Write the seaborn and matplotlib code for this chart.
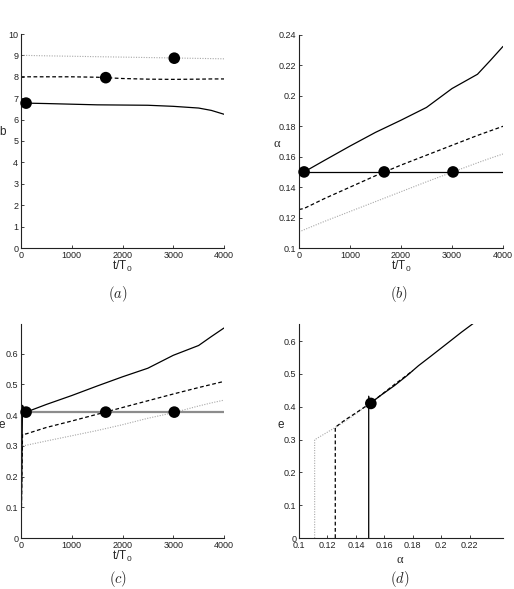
import matplotlib
matplotlib.use("Agg")
import matplotlib.pyplot as plt
import seaborn as sns
import pandas as pd

# ---------------- data ----------------
t = [0, 30, 100, 500, 1000, 1500, 2000, 2500, 3000, 3500, 3750, 4000]

b_solid = [6.77, 6.77, 6.77, 6.75, 6.72, 6.69, 6.68, 6.67, 6.62, 6.54, 6.43, 6.25]
b_dashed = [8.0, 8.0, 8.0, 8.0, 8.0, 7.98, 7.92, 7.89, 7.88, 7.89, 7.9, 7.9]
b_dotted = [9.0, 9.0, 9.0, 8.98, 8.96, 8.94, 8.92, 8.9, 8.88, 8.86, 8.85, 8.84]

alpha_solid = [0.149, 0.149, 0.150, 0.1576, 0.167, 0.176, 0.184, 0.1924, 0.2048, 0.2142, 0.2232, 0.2325]
alpha_dashed = [0.1255, 0.1255, 0.126, 0.1325, 0.140, 0.1475, 0.1545, 0.161, 0.1675, 0.174, 0.177, 0.180]
alpha_dotted = [0.111, 0.111, 0.112, 0.1175, 0.124, 0.1305, 0.137, 0.1435, 0.1498, 0.156, 0.159, 0.1618]

e_solid = [0.0, 0.432, 0.41, 0.435, 0.464, 0.495, 0.525, 0.553, 0.595, 0.627, 0.656, 0.684]
e_dashed = [0.0, 0.338, 0.339, 0.360, 0.381, 0.403, 0.425, 0.447, 0.469, 0.490, 0.500, 0.510]
e_dotted = [0.0, 0.300, 0.302, 0.316, 0.333, 0.350, 0.369, 0.390, 0.408, 0.430, 0.440, 0.449]

thr_t = [0, 4000]
alpha_thr = [0.15, 0.15]
e_thr = [0.41, 0.41]

cross_t = [100, 1670, 3020]
cross_b = [6.77, 7.96, 8.87]
cross_alpha = [0.15, 0.15, 0.15]
cross_e = [0.41, 0.41, 0.41]

d_alpha = [0.1505]
d_e = [0.41]

# ---------------- style ----------------
sns.set_theme(style="ticks")
plt.rcParams.update({
    "font.family": ["Liberation Sans", "DejaVu Sans"],
    "xtick.direction": "in",
    "ytick.direction": "in",
    "xtick.major.size": 2.5,
    "ytick.major.size": 2.5,
    "xtick.major.width": 0.6,
    "ytick.major.width": 0.6,
    "xtick.major.pad": 2,
    "ytick.major.pad": 2,
    "xtick.labelsize": 6.5,
    "ytick.labelsize": 6.5,
    "xtick.color": "#222222",
    "ytick.color": "#222222",
    "axes.edgecolor": "#222222",
    "axes.linewidth": 0.8,
    "mathtext.fontset": "cm",
})

styles = {
    "solid": dict(color="black", linewidth=0.9, linestyle="-"),
    "dashed": dict(color="black", linewidth=0.9, linestyle=(0, (3, 2))),
    "dotted": dict(color="#a8a8a8", linewidth=0.8, linestyle=(0, (1, 1.3))),
}

W, H = 514, 589
fig = plt.figure(figsize=(W / 100, H / 100), dpi=100)


def add_ax(x0, x1, ytop, ybot):
    return fig.add_axes([x0 / W, 1 - ybot / H, (x1 - x0) / W, (ybot - ytop) / H])


ax_a = add_ax(21, 224, 34, 248)
ax_b = add_ax(299, 503, 35, 248)
ax_c = add_ax(21, 224, 324, 538)
ax_d = add_ax(299, 503, 324, 538)


def series(ax, x, y, key):
    df = pd.DataFrame({"x": x, "y": y})
    sns.lineplot(data=df, x="x", y="y", ax=ax, sort=False, estimator=None, **styles[key])


def markers(ax, x, y):
    df = pd.DataFrame({"x": x, "y": y})
    sns.scatterplot(data=df, x="x", y="y", ax=ax, s=70, color="black",
                    edgecolor="none", zorder=5, clip_on=False)


def finish(ax, xlim, ylim, xticks, yticks, xticklabels, yticklabels):
    ax.set_xlim(*xlim)
    ax.set_ylim(*ylim)
    ax.set_xticks(xticks)
    ax.set_yticks(yticks)
    ax.set_xticklabels(xticklabels)
    ax.set_yticklabels(yticklabels)
    sns.despine(ax=ax)
    ax.set_xlabel("")
    ax.set_ylabel("")


# (a)
series(ax_a, t, b_dotted, "dotted")
series(ax_a, t, b_dashed, "dashed")
series(ax_a, t, b_solid, "solid")
markers(ax_a, cross_t, cross_b)
finish(ax_a, (0, 4000), (0, 10), [0, 1000, 2000, 3000, 4000], range(0, 11),
       ["0", "1000", "2000", "3000", "4000"], [str(i) for i in range(0, 11)])

# (b)
series(ax_b, t, alpha_dotted, "dotted")
series(ax_b, t, alpha_dashed, "dashed")
series(ax_b, t, alpha_solid, "solid")
series(ax_b, thr_t, alpha_thr, "solid")
markers(ax_b, cross_t, cross_alpha)
finish(ax_b, (0, 4000), (0.1, 0.24), [0, 1000, 2000, 3000, 4000],
       [0.1, 0.12, 0.14, 0.16, 0.18, 0.2, 0.22, 0.24],
       ["0", "1000", "2000", "3000", "4000"],
       ["0.1", "0.12", "0.14", "0.16", "0.18", "0.2", "0.22", "0.24"])

# (c)
series(ax_c, t, e_dotted, "dotted")
series(ax_c, t, e_dashed, "dashed")
series(ax_c, t, e_solid, "solid")
sns.lineplot(x=thr_t, y=e_thr, ax=ax_c, color="#8c8c8c", linewidth=1.6)
markers(ax_c, cross_t, cross_e)
finish(ax_c, (0, 4000), (0, 0.697), [0, 1000, 2000, 3000, 4000],
       [0, 0.1, 0.2, 0.3, 0.4, 0.5, 0.6],
       ["0", "1000", "2000", "3000", "4000"],
       ["0", "0.1", "0.2", "0.3", "0.4", "0.5", "0.6"])

# (d)
series(ax_d, alpha_dotted, e_dotted, "dotted")
series(ax_d, alpha_dashed, e_dashed, "dashed")
series(ax_d, alpha_solid, e_solid, "solid")
markers(ax_d, d_alpha, d_e)
finish(ax_d, (0.1, 0.2434), (0, 0.652),
       [0.1, 0.12, 0.14, 0.16, 0.18, 0.2, 0.22],
       [0, 0.1, 0.2, 0.3, 0.4, 0.5, 0.6],
       ["0.1", "0.12", "0.14", "0.16", "0.18", "0.2", "0.22"],
       ["0", "0.1", "0.2", "0.3", "0.4", "0.5", "0.6"])

# labels
lab_fs = 8.5
tT = r"t/T$_\mathregular{0}$"
for ax in (ax_a, ax_b, ax_c):
    ax.set_xlabel(tT, fontsize=lab_fs)
    ax.xaxis.set_label_coords(0.5, -0.05)
    ax.xaxis.label.set_va("top")

ax_d.set_xlabel("α", fontsize=9, family=["Liberation Serif", "DejaVu Serif"])
ax_d.xaxis.set_label_coords(0.495, -0.075)
ax_d.xaxis.label.set_va("top")

ax_a.set_ylabel("b", fontsize=lab_fs, rotation=0, ha="center", va="center")
ax_a.yaxis.set_label_coords(-0.089, 0.54)
ax_b.set_ylabel("α", fontsize=9, rotation=0, ha="center", va="center",
                family=["Liberation Serif", "DejaVu Serif"])
ax_b.yaxis.set_label_coords(-0.108, 0.49)
ax_c.set_ylabel("e", fontsize=lab_fs, rotation=0, ha="center", va="center")
ax_c.yaxis.set_label_coords(-0.095, 0.53)
ax_d.set_ylabel("e", fontsize=lab_fs, rotation=0, ha="center", va="center")
ax_d.yaxis.set_label_coords(-0.088, 0.53)

for txt, x, y in [("$(a)$", 118, 294), ("$(b)$", 399, 294),
                  ("$(c)$", 118, 579), ("$(d)$", 400, 579)]:
    fig.text(x / W, 1 - y / H, txt, ha="center", va="center", fontsize=10.5)

fig.savefig("out.png", dpi=100)
